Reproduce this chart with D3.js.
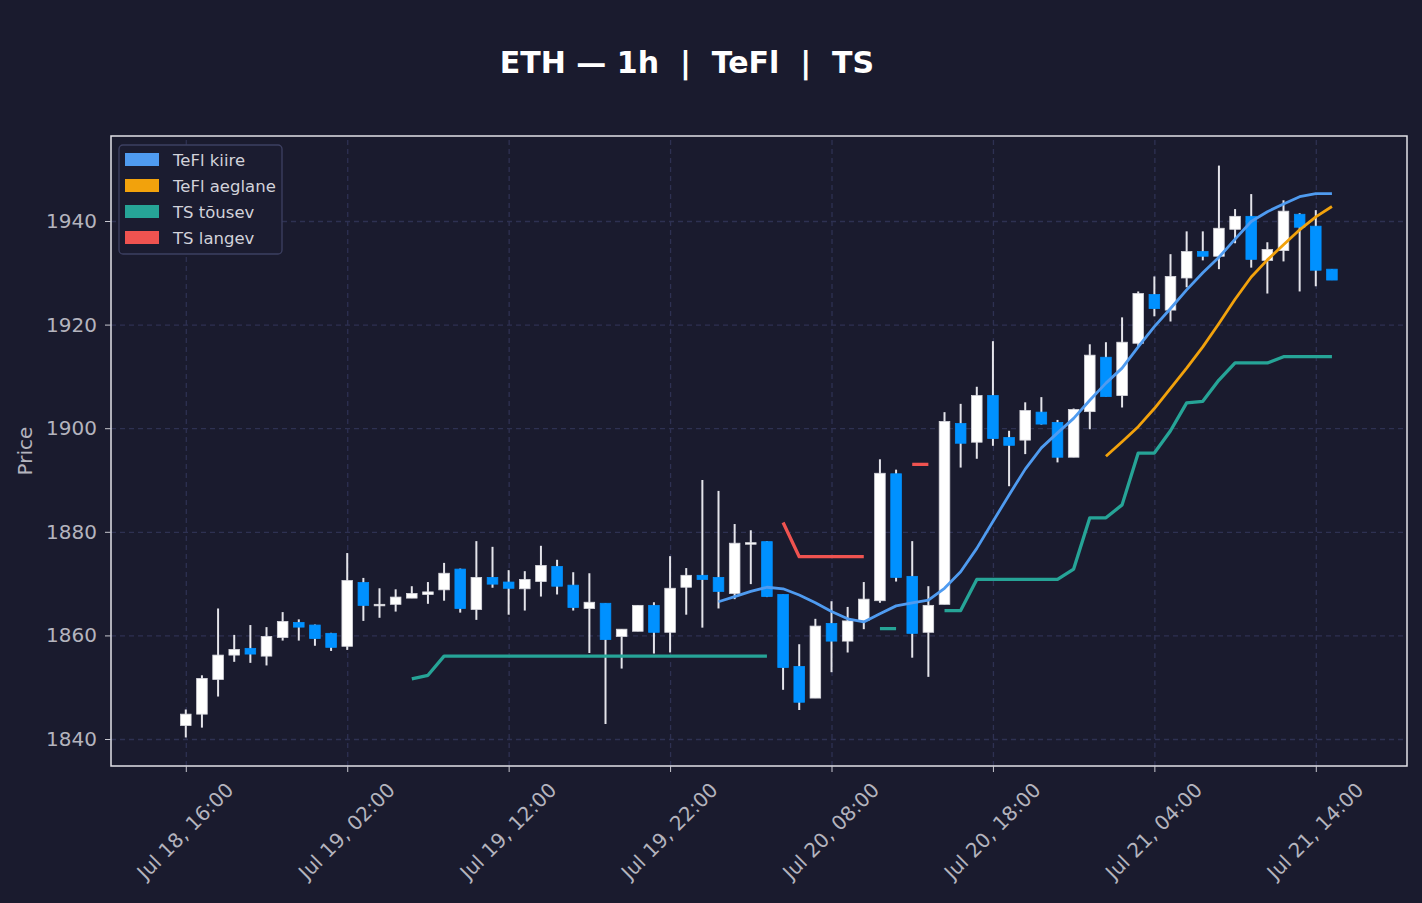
<!DOCTYPE html>
<html>
<head>
<meta charset="utf-8">
<script src="https://cdn.jsdelivr.net/npm/d3@7"></script>
<style>
  body { margin: 0; background: #1a1b2e; }
  text { font-family: "DejaVu Sans", sans-serif; }
  .axis path { display: none; }
  .axis line { stroke: #c8c8d0; }
  .axis text { fill: #b4b4be; font-size: 20px; }
  .grid line { stroke: #2e3152; stroke-dasharray: 5,4; stroke-width: 1.3; }
  .grid path { display: none; }
</style>
</head>
<body>
<div id="plot"></div>
<script>
// hourly candles from Jul 18, 16:00
var startTime = new Date(2023, 6, 18, 16, 0);

var opens = [1842.6, 1844.8, 1851.5, 1856.2, 1857.5, 1856.0, 1859.6, 1862.5, 1862.0, 1860.4,
  1857.9, 1870.2, 1865.8, 1866.0, 1867.2, 1867.9, 1868.8, 1872.8, 1865.0, 1871.2,
  1870.3, 1869.0, 1870.4, 1873.3, 1869.7, 1865.2, 1866.2, 1859.8, 1860.8, 1865.8,
  1860.6, 1869.3, 1871.6, 1871.2, 1868.1, 1877.6, 1878.1, 1867.9, 1854.0, 1847.9,
  1862.3, 1858.9, 1862.9, 1866.7, 1891.2, 1871.4, 1860.6, 1866.0, 1900.9, 1897.3,
  1906.3, 1898.2, 1897.7, 1903.1, 1901.1, 1894.4, 1903.2, 1913.7, 1906.3, 1916.4,
  1925.8, 1922.8, 1929.0, 1934.1, 1933.2, 1938.4, 1940.9, 1932.4, 1934.3, 1941.3,
  1939.0, 1930.7];
var highs = [1845.7, 1852.3, 1865.2, 1860.1, 1862.0, 1861.6, 1864.5, 1863.1, 1862.1, 1860.5,
  1875.9, 1871.1, 1869.1, 1868.9, 1869.5, 1870.3, 1874.0, 1872.9, 1878.2, 1877.1,
  1872.6, 1872.4, 1877.3, 1874.6, 1872.2, 1872.0, 1866.2, 1861.2, 1865.8, 1866.4,
  1875.3, 1873.0, 1890.0, 1887.9, 1881.5, 1880.3, 1878.2, 1867.9, 1858.3, 1863.2,
  1866.6, 1865.5, 1870.3, 1894.0, 1892.0, 1878.2, 1869.5, 1903.1, 1904.7, 1908.0,
  1916.8, 1899.5, 1905.0, 1906.0, 1901.6, 1903.8, 1916.2, 1916.6, 1921.4, 1926.4,
  1929.3, 1933.6, 1938.0, 1938.0, 1950.7, 1942.3, 1945.2, 1935.9, 1944.0, 1941.5,
  1942.1, 1930.7];
var lows = [1840.3, 1842.2, 1848.2, 1854.9, 1854.7, 1854.2, 1859.0, 1859.0, 1858.0, 1857.0,
  1857.2, 1862.8, 1863.4, 1864.6, 1867.2, 1866.1, 1866.7, 1864.4, 1863.0, 1869.2,
  1864.0, 1864.8, 1867.5, 1867.9, 1864.8, 1856.6, 1842.9, 1853.6, 1860.8, 1856.5,
  1856.7, 1864.0, 1861.5, 1865.2, 1867.0, 1869.9, 1867.4, 1849.5, 1845.6, 1847.9,
  1852.9, 1856.7, 1861.2, 1866.3, 1870.4, 1855.7, 1852.0, 1866.0, 1892.4, 1894.1,
  1896.6, 1888.8, 1895.0, 1900.7, 1893.4, 1894.4, 1899.8, 1906.1, 1904.0, 1915.8,
  1921.6, 1920.6, 1927.2, 1932.4, 1930.7, 1935.7, 1931.0, 1926.0, 1932.2, 1926.4,
  1927.4, 1928.6];
var closes = [1844.8, 1851.7, 1856.2, 1857.3, 1856.4, 1859.8, 1862.7, 1861.6, 1859.4, 1857.7,
  1870.6, 1865.8, 1866.0, 1867.4, 1868.1, 1868.4, 1872.0, 1865.2, 1871.2, 1869.9,
  1869.1, 1870.8, 1873.5, 1869.5, 1865.4, 1866.4, 1859.2, 1861.2, 1865.8, 1860.6,
  1869.1, 1871.6, 1870.8, 1868.5, 1877.8, 1877.9, 1867.5, 1853.8, 1847.1, 1861.8,
  1858.9, 1862.8, 1867.0, 1891.3, 1871.2, 1860.4, 1865.8, 1901.3, 1897.1, 1906.3,
  1898.0, 1896.7, 1903.4, 1900.8, 1894.4, 1903.6, 1914.1, 1906.1, 1916.6, 1926.0,
  1923.1, 1929.3, 1934.1, 1933.2, 1938.6, 1940.9, 1932.6, 1934.5, 1941.9, 1938.8,
  1930.5, 1928.6];

var N = null;
var teflFast = [N, N, N, N, N, N, N, N, N, N, N, N, N, N, N, N, N, N, N, N,
  N, N, N, N, N, N, N, N, N, N, N, N, N,
  1866.5, 1867.5, 1868.5, 1869.3, 1869.0, 1867.8, 1866.3, 1864.6, 1863.2, 1862.6,
  1864.2, 1865.7, 1866.3, 1866.8, 1869.1, 1872.3, 1876.8, 1882.0, 1887.1, 1892.1,
  1896.2, 1899.1, 1901.9, 1905.4, 1908.7, 1911.6, 1915.7, 1919.6, 1923.1, 1926.7,
  1930.0, 1933.0, 1936.5, 1939.9, 1941.8, 1943.3, 1944.7, 1945.3, 1945.3];
var teflSlow = [N, N, N, N, N, N, N, N, N, N, N, N, N, N, N, N, N, N, N, N,
  N, N, N, N, N, N, N, N, N, N, N, N, N, N, N, N, N, N, N, N,
  N, N, N, N, N, N, N, N, N, N, N, N, N, N, N, N, N,
  1894.6, 1897.4, 1900.3, 1903.8, 1907.7, 1911.6, 1915.7, 1920.2, 1924.9, 1929.2,
  1932.5, 1935.4, 1938.3, 1940.8, 1942.8];
var tsUp = [N, N, N, N, N, N, N, N, N, N, N, N, N, N,
  1851.6, 1852.3, 1856.0, 1856.0, 1856.0, 1856.0, 1856.0, 1856.0, 1856.0, 1856.0,
  1856.0, 1856.0, 1856.0, 1856.0, 1856.0, 1856.0, 1856.0, 1856.0, 1856.0, 1856.0,
  1856.0, 1856.0, 1856.0,
  N, N, N, N, N, N,
  1861.3, 1861.3,
  N, N,
  1864.8, 1864.8, 1870.8, 1870.8, 1870.8, 1870.8, 1870.8, 1870.8, 1872.8, 1882.7,
  1882.7, 1885.2, 1895.2, 1895.2, 1899.5, 1904.9, 1905.2, 1909.3, 1912.6, 1912.6,
  1912.6, 1913.8, 1913.8, 1913.8, 1913.8];
var tsDown = [N, N, N, N, N, N, N, N, N, N, N, N, N, N, N, N, N, N, N, N,
  N, N, N, N, N, N, N, N, N, N, N, N, N, N, N, N, N,
  1881.8, 1875.2, 1875.2, 1875.2, 1875.2, 1875.2,
  N, N,
  1893.0, 1893.0,
  N, N, N, N, N, N, N, N, N, N, N, N, N, N, N, N, N, N, N, N, N, N, N, N, N];

var yTicks = [1840, 1860, 1880, 1900, 1920, 1940];
var xTickHours = [0, 10, 20, 30, 40, 50, 60, 70];

var seriesNames = ["TeFl kiire", "TeFl aeglane", "TS tõusev", "TS langev"];
var seriesColors = ["#4f9bf0", "#f2a20c", "#26a497", "#ef5350"];

var W = 1422, H = 903;
var plot = { left: 111, top: 136, right: 1407, bottom: 766 };

var times = opens.map(function(d, i) { return d3.timeHour.offset(startTime, i); });

var svg = d3.select("div#plot")
  .append("svg")
    .attr("width", W)
    .attr("height", H);

svg.append("rect")
  .attr("width", W)
  .attr("height", H)
  .attr("fill", "#1a1b2e");

var xscale = d3.scaleTime()
  .domain([d3.timeMinute.offset(startTime, -278), d3.timeMinute.offset(startTime, 4539)])
  .range([plot.left, plot.right]);

var yscale = d3.scaleLinear()
  .domain([1834.79, 1956.41])
  .range([plot.bottom, plot.top]);

var xTicks = xTickHours.map(function(h) { return d3.timeHour.offset(startTime, h); });
var fmt = d3.timeFormat("%b %d, %H:%M");

// grid
svg.append("g")
  .attr("class", "grid")
  .attr("transform", "translate(0," + plot.bottom + ")")
  .call(d3.axisBottom(xscale).tickValues(xTicks).tickSize(-(plot.bottom - plot.top)).tickFormat(""));

svg.append("g")
  .attr("class", "grid")
  .attr("transform", "translate(" + plot.left + ",0)")
  .call(d3.axisLeft(yscale).tickValues(yTicks).tickSize(-(plot.right - plot.left)).tickFormat(""));

// candles
var bw = 10.6;
var candles = svg.selectAll("g.candle")
  .data(times)
  .enter().append("g")
  .attr("class", "candle");

candles.append("line")
  .attr("x1", function(d) { return xscale(d); })
  .attr("x2", function(d) { return xscale(d); })
  .attr("y1", function(d, i) { return yscale(highs[i]); })
  .attr("y2", function(d, i) { return yscale(lows[i]); })
  .attr("stroke", "#e4e4ea")
  .attr("stroke-width", 2);

candles.append("rect")
  .attr("x", function(d) { return xscale(d) - bw / 2; })
  .attr("y", function(d, i) { return yscale(Math.max(opens[i], closes[i])); })
  .attr("width", bw)
  .attr("height", function(d, i) {
    return Math.max(1.5, Math.abs(yscale(opens[i]) - yscale(closes[i])));
  })
  .attr("fill", function(d, i) { return closes[i] >= opens[i] ? "#ffffff" : "#0091ff"; })
  .attr("stroke", function(d, i) { return closes[i] >= opens[i] ? "#d8d8de" : "#0091ff"; })
  .attr("stroke-width", 0.8);

// indicator lines
function drawLine(values, color, widthPx) {
  var line = d3.line()
    .defined(function(d) { return d != null; })
    .x(function(d, i) { return xscale(times[i]); })
    .y(function(d) { return yscale(d); });
  svg.append("path")
    .datum(values)
    .attr("fill", "none")
    .attr("stroke", color)
    .attr("stroke-width", widthPx)
    .attr("stroke-linejoin", "round")
    .attr("d", line);
}

drawLine(tsUp, seriesColors[2], 3.3);
drawLine(tsDown, seriesColors[3], 3.3);
drawLine(teflFast, seriesColors[0], 2.8);
drawLine(teflSlow, seriesColors[1], 2.8);

// frame
svg.append("rect")
  .attr("x", plot.left)
  .attr("y", plot.top)
  .attr("width", plot.right - plot.left)
  .attr("height", plot.bottom - plot.top)
  .attr("fill", "none")
  .attr("stroke", "#e2e2e8")
  .attr("stroke-width", 1.5);

// axes
var xAxis = svg.append("g")
  .attr("class", "axis")
  .attr("transform", "translate(0," + plot.bottom + ")")
  .call(d3.axisBottom(xscale).tickValues(xTicks).tickSize(6).tickFormat(fmt));

xAxis.selectAll("text")
  .attr("y", 0)
  .attr("dy", 0)
  .attr("transform", "translate(0,66) rotate(-45)")
  .style("text-anchor", "middle")
  .attr("dominant-baseline", "middle");

svg.append("g")
  .attr("class", "axis")
  .attr("transform", "translate(" + plot.left + ",0)")
  .call(d3.axisLeft(yscale).tickValues(yTicks).tickSize(6).tickPadding(8).tickFormat(d3.format("d")));

svg.append("text")
  .attr("transform", "translate(32," + ((plot.top + plot.bottom) / 2) + ") rotate(-90)")
  .attr("text-anchor", "middle")
  .attr("fill", "#b4b4be")
  .style("font-size", "20px")
  .text("Price");

svg.append("text")
  .attr("x", 687)
  .attr("y", 73)
  .attr("text-anchor", "middle")
  .attr("fill", "#ffffff")
  .style("font-size", "30px")
  .style("font-weight", "bold")
  .style("white-space", "pre")
  .text("ETH — 1h  |  TeFl  |  TS");

// legend
var legendBox = svg.append("g")
  .attr("transform", "translate(119,145)");

legendBox.append("rect")
  .attr("width", 163)
  .attr("height", 109)
  .attr("rx", 4)
  .attr("fill", "#1b1c30")
  .attr("stroke", "#3d4062")
  .attr("stroke-width", 1.3);

var legend = legendBox.selectAll(".legend")
  .data(seriesNames)
  .enter().append("g")
  .attr("class", "legend")
  .attr("transform", function(d, i) { return "translate(0," + (15 + i * 26) + ")"; });

legend.append("rect")
  .attr("x", 6)
  .attr("y", -7)
  .attr("width", 34)
  .attr("height", 13)
  .attr("fill", function(d, i) { return seriesColors[i]; });

legend.append("text")
  .attr("x", 54)
  .attr("y", 0)
  .attr("dy", ".35em")
  .attr("fill", "#d2d2da")
  .style("font-size", "16.5px")
  .text(function(d) { return d; });
</script>
</body>
</html>
